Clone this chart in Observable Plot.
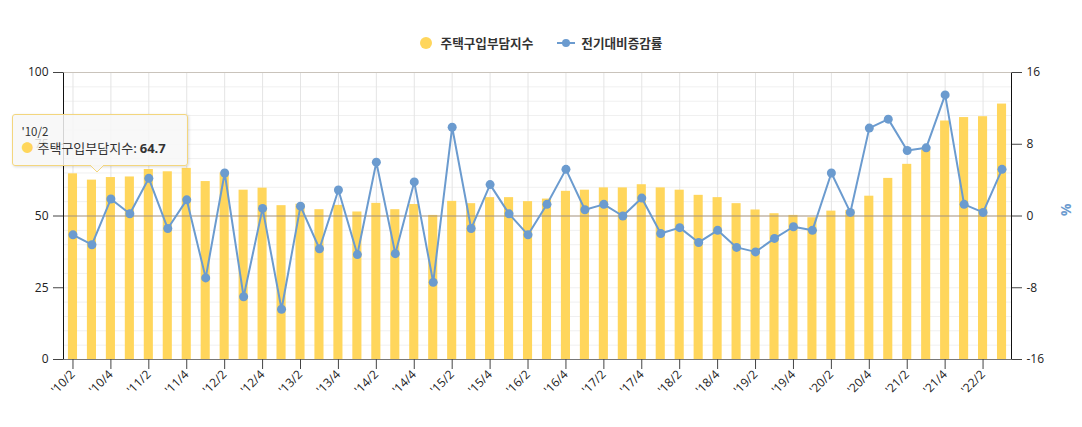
<!DOCTYPE html>
<html><head><meta charset="utf-8">
<script src="https://cdn.jsdelivr.net/npm/d3@7"></script>
<script src="https://cdn.jsdelivr.net/npm/@observablehq/plot@0.6"></script>
<style>
body{margin:0;background:#fff;font-family:"Open Sans","Noto Sans CJK KR",sans-serif;}
#wrap{position:relative;width:1082px;height:427px;overflow:hidden;}
#legend{height:60px;display:flex;justify-content:center;align-items:flex-start;box-sizing:border-box;padding-top:34px;font-family:"Noto Sans CJK KR",sans-serif;font-size:12.6px;font-weight:bold;color:#333;}
.item{display:flex;align-items:center;margin:0 12px;line-height:18px;}
.dot{width:12px;height:12px;border-radius:50%;background:#ffd65c;margin-right:9px;}
.lsym{position:relative;width:18px;height:12px;margin-right:6px;}
.lsym:before{content:"";position:absolute;left:0;right:0;top:5px;height:2px;background:#6b9bcf;}
.lsym:after{content:"";position:absolute;left:5px;top:2px;width:8px;height:8px;border-radius:50%;background:#6b9bcf;}
#tip{position:absolute;box-sizing:border-box;width:176px;height:52px;background:rgba(247,247,247,0.85);border:1px solid #f3d67e;border-radius:3px;box-shadow:1px 1px 3px rgba(0,0,0,0.15);font-family:"Noto Sans CJK KR",sans-serif;color:#333;padding:9px 0 0 8px;}
#tip .h{font-size:11.5px;line-height:14px;}
#tip .r{font-size:13px;line-height:18px;margin-top:1px;white-space:nowrap;}
#tip .r b{font-family:"Open Sans",sans-serif;}
#tip .r span.d{color:#ffd65c;font-size:12px;margin-right:4px;}
#ptr{position:absolute;width:14px;height:8px;}
</style></head>
<body>
<div id="wrap">
  <div id="legend">
    <div class="item"><div class="dot"></div>주택구입부담지수</div>
    <div class="item"><div class="lsym"></div>전기대비증감률</div>
  </div>
  <div id="chart"></div>
</div>
<script>
const quarters = ["'10/2","'10/3","'10/4","'11/1","'11/2","'11/3","'11/4","'12/1","'12/2","'12/3",
  "'12/4","'13/1","'13/2","'13/3","'13/4","'14/1","'14/2","'14/3","'14/4","'15/1",
  "'15/2","'15/3","'15/4","'16/1","'16/2","'16/3","'16/4","'17/1","'17/2","'17/3",
  "'17/4","'18/1","'18/2","'18/3","'18/4","'19/1","'19/2","'19/3","'19/4","'20/1",
  "'20/2","'20/3","'20/4","'21/1","'21/2","'21/3","'21/4","'22/1","'22/2","'22/3"];
const affordIndex = [64.7,62.5,63.4,63.6,66.2,65.4,66.6,62.0,65.0,59.0,
  59.7,53.6,54.1,52.2,53.7,51.4,54.4,52.2,54.0,50.2,
  55.1,54.3,56.4,56.4,55.0,55.9,58.6,59.0,59.8,59.8,
  60.9,59.8,59.0,57.2,56.4,54.3,52.1,50.8,50.2,49.4,
  51.7,51.9,56.9,63.1,68.0,73.1,83.1,84.3,84.6,89.0];
const changePct = [-2.1,-3.2,1.9,0.25,4.2,-1.4,1.8,-6.9,4.8,-9.0,
  0.85,-10.4,1.1,-3.65,2.9,-4.3,6.0,-4.2,3.8,-7.4,
  9.9,-1.4,3.5,0.24,-2.1,1.3,5.2,0.7,1.3,0.0,
  2.0,-1.95,-1.3,-2.95,-1.6,-3.5,-4.0,-2.5,-1.2,-1.6,
  4.8,0.4,9.8,10.8,7.3,7.6,13.5,1.3,0.4,5.2];
const xTickLabels = ["'10/2","'10/4","'11/2","'11/4","'12/2","'12/4","'13/2","'13/4","'14/2","'14/4",
  "'15/2","'15/4","'16/2","'16/4","'17/2","'17/4","'18/2","'18/4","'19/2","'19/4",
  "'20/2","'20/4","'21/2","'21/4","'22/2"];
const leftTicks = [0,25,50,75,100];
const rightTicks = [-16,-8,0,8,16];
const minorGrid = [5,10,15,20,25,30,35,40,45,55,60,65,70,75,80,85,90,95];

const BAR = "#ffd65c", LINE = "#6b9bcf";
const pctToLeft = p => 50 + p * 50 / 16;
const data = quarters.map((q, i) => ({q, v: affordIndex[i], p: changePct[i]}));

const axisLines = (index, scales, values, dims) => {
  const {width, height, marginLeft, marginRight, marginTop, marginBottom} = dims;
  const g = d3.create("svg:g");
  const L = marginLeft + 0.5, R = width - marginRight + 0.5, T = marginTop + 0.5, B = height - marginBottom + 0.5;
  g.append("line").attr("x1", L).attr("x2", R).attr("y1", T).attr("y2", T).attr("stroke", "#c9c3bb");
  g.append("line").attr("x1", L).attr("x2", R).attr("y1", B).attr("y2", B).attr("stroke", "#777");
  g.append("line").attr("x1", L).attr("x2", L).attr("y1", T).attr("y2", B).attr("stroke", "#111");
  g.append("line").attr("x1", R).attr("x2", R).attr("y1", T).attr("y2", B).attr("stroke", "#111");
  return g.node();
};

const chart = Plot.plot({
  width: 1082,
  height: 367,
  marginTop: 12,
  marginBottom: 68,
  marginLeft: 63,
  marginRight: 71,
  style: {fontFamily: "'Open Sans','Noto Sans CJK KR',sans-serif", fontSize: "12px", color: "#333", background: "transparent"},
  x: {type: "band", domain: quarters, paddingInner: 0.52, paddingOuter: 0.26},
  y: {domain: [0, 100], nice: false},
  marks: [
    Plot.ruleY(minorGrid, {stroke: "#f0f0f0"}),
    Plot.ruleX(xTickLabels, {stroke: "#e4e4e4"}),
    Plot.barY(data, {x: "q", y: "v", fill: BAR}),
    Plot.ruleY([pctToLeft(0)], {stroke: "#a3917a", strokeWidth: 1}),
    Plot.line(data, {x: "q", y: d => pctToLeft(d.p), stroke: LINE, strokeWidth: 2}),
    Plot.dot(data, {x: "q", y: d => pctToLeft(d.p), r: 4.5, fill: LINE}),
    axisLines,
    Plot.axisY({ticks: leftTicks, tickSize: 10, tickPadding: 5, label: null, stroke: "#444", fill: "#222"}),
    Plot.axisY({anchor: "right", ticks: rightTicks.map(pctToLeft), tickFormat: d => String(Math.round((d - 50) * 16 / 50)), tickSize: 10, tickPadding: 5, label: null, stroke: "#444", fill: "#222"}),
    Plot.axisX({ticks: xTickLabels, tickRotate: -45, tickSize: 10, tickPadding: 3, label: null, stroke: "#444", fill: "#222"}),
    Plot.text(["%"], {frameAnchor: "right", dx: 54, rotate: 90, fill: LINE, fontSize: 14, fontWeight: "bold", text: d => d})
  ]
});
document.getElementById("chart").appendChild(chart);

// tooltip on first bar
const sx = chart.scale("x"), sy = chart.scale("y");
const cx = sx.apply(quarters[0]) + sx.bandwidth / 2;
const by = sy.apply(affordIndex[0]) + 60;
const tip = document.createElement("div");
tip.id = "tip";
tip.innerHTML = `<div class="h">${quarters[0]}</div><div class="r"><span class="d">●</span>주택구입부담지수: <b>${affordIndex[0]}</b></div>`;
tip.style.left = (cx - 60) + "px";
tip.style.top = (by - 59) + "px";
document.getElementById("wrap").appendChild(tip);
const ptr = document.createElementNS("http://www.w3.org/2000/svg", "svg");
ptr.id = "ptr";
ptr.setAttribute("viewBox", "0 0 14 8");
ptr.innerHTML = '<path d="M0,0 L7,7 L14,0 Z" fill="rgb(247,247,247)" fill-opacity="0.95"/><path d="M0,0 L7,7 L14,0" fill="none" stroke="#f3d67e"/>';
ptr.style.left = (cx + 25 - 7) + "px";
ptr.style.top = (by - 8) + "px";
document.getElementById("wrap").appendChild(ptr);
</script>
</body></html>
